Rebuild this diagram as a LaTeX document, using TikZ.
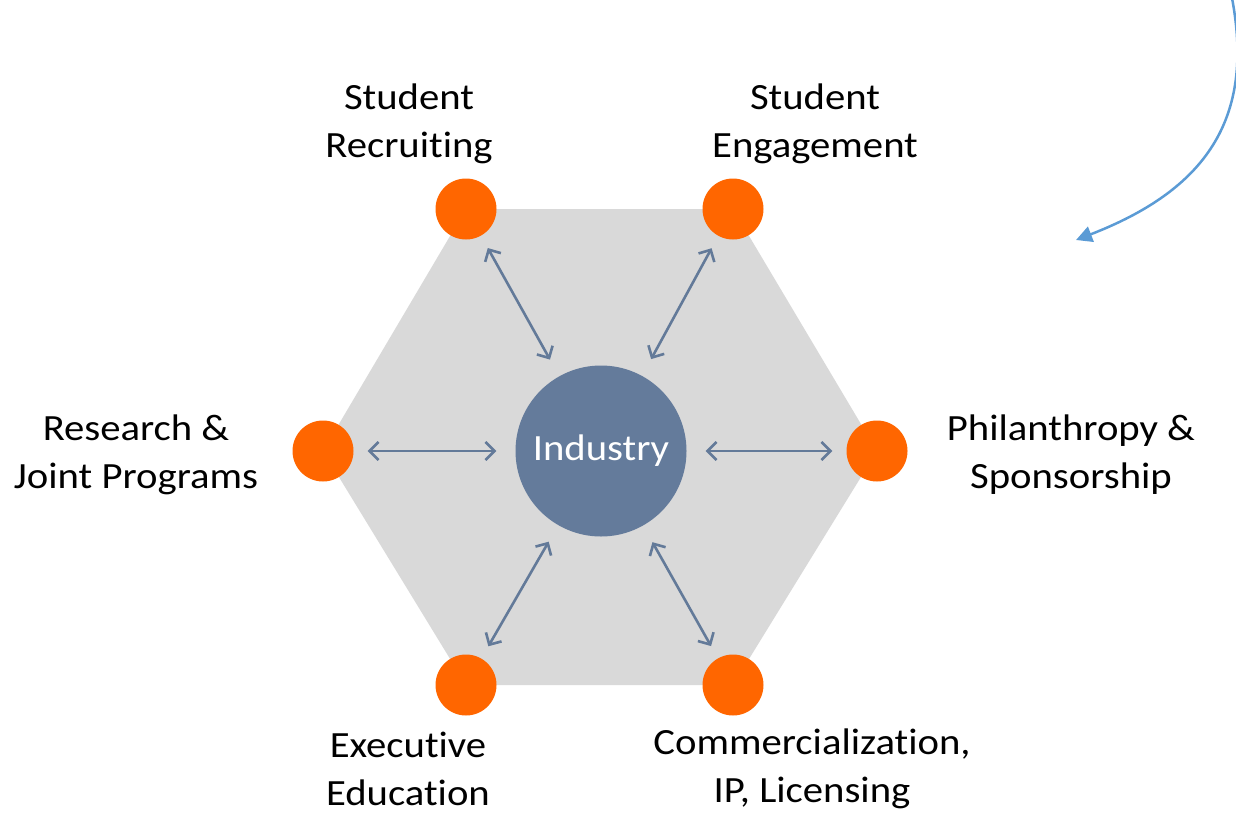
\documentclass[tikz,border=0pt]{standalone}
\usepackage{fontspec}
\setmainfont{Carlito}[FakeStretch=1.1, Ligatures=NoCommon]
\usetikzlibrary{arrows.meta}
\definecolor{hexgrey}{HTML}{D9D9D9}
\definecolor{dotorange}{HTML}{FF6600}
\definecolor{indblue}{HTML}{647B9B}
\definecolor{arrblue}{HTML}{637A99}
\definecolor{curveblue}{HTML}{5B9BD5}
\tikzset{
  dot/.style={circle, fill=dotorange, minimum size=61pt, inner sep=0pt},
  hub/.style={circle, fill=indblue, minimum size=171pt, inner sep=0pt, text=white, font=\fontsize{37}{44}\selectfont},
  lbl/.style={align=center, inner sep=0pt, font=\fontsize{37}{48}\selectfont},
  link/.style={draw=arrblue, line width=2.6pt, {Straight Barb[length=9pt,width=18pt]}-{Straight Barb[length=9pt,width=18pt]}, shorten <=19pt, shorten >=14pt},
  curvearr/.style={draw=curveblue, line width=2.5pt, -{Triangle[length=16pt,width=16pt]}}
}
\begin{document}
\begin{tikzpicture}[x=1pt,y=-1pt]
\useasboundingbox (0,0) rectangle (1236,814);
% hexagon vertices
\coordinate (v1) at (466,209);
\coordinate (v2) at (733,209);
\coordinate (v3) at (877,451);
\coordinate (v4) at (733,685);
\coordinate (v5) at (466,685);
\coordinate (v6) at (323,451);
\fill[hexgrey] (v1) -- (v2) -- (v3) -- (v4) -- (v5) -- (v6) -- cycle;
% nodes
\node[hub] (ind) at (601,451) {Industry};
\node[dot] (c1) at (v1) {};
\node[dot] (c2) at (v2) {};
\node[dot] (c3) at (v3) {};
\node[dot] (c4) at (v4) {};
\node[dot] (c5) at (v5) {};
\node[dot] (c6) at (v6) {};
% links
\draw[link] (ind) -- (c1);
\draw[link] (ind) -- (c2);
\draw[link] (ind) -- (c3);
\draw[link] (ind) -- (c4);
\draw[link] (ind) -- (c5);
\draw[link] (ind) -- (c6);
% labels
\node[lbl] (l1) at (409,124) {Student\\Recruiting};
\node[lbl] (l2) at (815,124) {Student\\Engagement};
\node[lbl] (l6) at (136,455) {Research \&\\Joint Programs};
\node[lbl] (l3) at (1071,455) {Philanthropy \&\\Sponsorship};
\node[lbl] (l5) at (408,769) {Executive\\Education};
\node[lbl] (l4) at (812,769) {Commercialization,\\IP, Licensing};
% curved arrow
\coordinate (cs) at (1232,-2);
\coordinate (ce) at (1076,240);
\draw[curvearr] (cs) .. controls (1255,120) and (1205,190) .. (ce);
\end{tikzpicture}
\end{document}
